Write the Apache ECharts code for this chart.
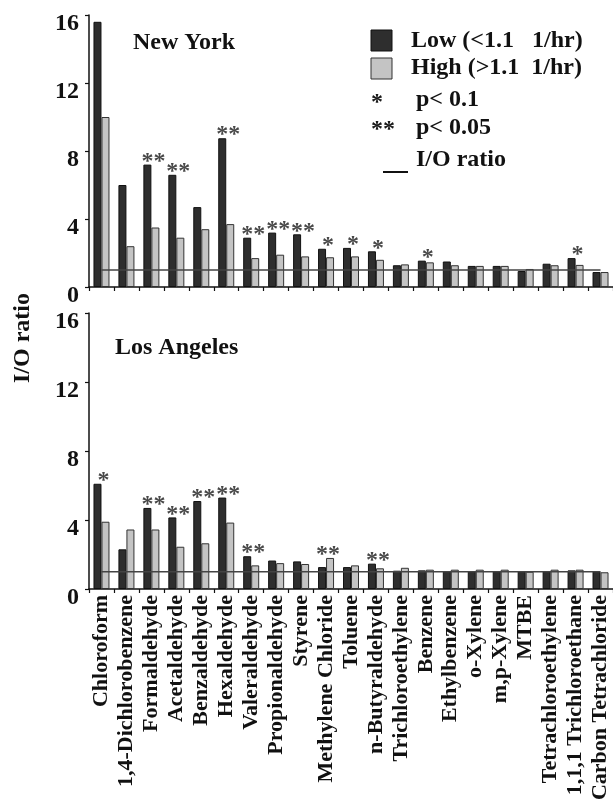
<!DOCTYPE html>
<html>
<head>
<meta charset="utf-8">
<script src="https://cdn.jsdelivr.net/npm/echarts@6/dist/echarts.min.js"></script>
<style>
  html, body { margin: 0; padding: 0; background: #fff; }
  #chart { width: 613px; height: 804px; }
</style>
</head>
<body>
<div id="chart"></div>
<script>
// Compounds, ordered as on the shared category axis
const categories = [
  'Chloroform', '1,4-Dichlorobenzene', 'Formaldehyde', 'Acetaldehyde',
  'Benzaldehyde', 'Hexaldehyde', 'Valeraldehyde', 'Propionaldehyde',
  'Styrene', 'Methylene Chloride', 'Toluene', 'n-Butyraldehyde',
  'Trichloroethylene', 'Benzene', 'Ethylbenzene', 'o-Xylene',
  'm,p-Xylene', 'MTBE', 'Tetrachloroethylene', '1,1,1 Trichloroethane',
  'Carbon Tetrachloride'
];

// New York I/O ratios by air exchange rate group
const nyLow  = [15.6, 6.0, 7.2, 6.6, 4.7, 8.75, 2.9, 3.2, 3.1, 2.25, 2.3, 2.1, 1.28, 1.55, 1.5, 1.24, 1.24, 0.94, 1.37, 1.7, 0.88];
const nyHigh = [10.0, 2.4, 3.5, 2.9, 3.4, 3.7, 1.7, 1.9, 1.8, 1.75, 1.8, 1.6, 1.33, 1.45, 1.28, 1.24, 1.24, 1.06, 1.28, 1.3, 0.88];
const nyStars = ['', '', '**', '**', '', '**', '**', '**', '**', '*', '*', '*', '', '*', '', '', '', '', '', '*', ''];

// Los Angeles I/O ratios by air exchange rate group
const laLow  = [6.1, 2.3, 4.7, 4.15, 5.1, 5.3, 1.9, 1.65, 1.6, 1.27, 1.27, 1.47, 1.06, 1.08, 1.02, 1.02, 1.02, 1.02, 1.02, 1.08, 1.02];
const laHigh = [3.9, 3.45, 3.45, 2.45, 2.65, 3.85, 1.37, 1.5, 1.45, 1.8, 1.37, 1.2, 1.23, 1.12, 1.12, 1.12, 1.12, 1.0, 1.12, 1.12, 0.97];
const laStars = ['*', '', '**', '**', '**', '**', '**', '', '', '**', '', '**', '', '', '', '', '', '', '', '', ''];

// Reference level I/O = 1
const ioRatio = 1;

// Y axis ticks
const yMin = 0, yMax = 16, yStep = 4;

const FONT = '"Liberation Serif", "Times New Roman", serif';
const DARK = '#2e2e2e';
const LIGHT = '#c4c4c4';

function starPoints(low, high, stars) {
  const pts = [];
  categories.forEach((c, i) => {
    if (stars[i]) pts.push({ value: [c, Math.max(low[i], high[i])], star: stars[i] });
  });
  return pts;
}

function yAxis(gridIndex) {
  return {
    type: 'value', gridIndex, min: yMin, max: yMax, interval: yStep,
    splitLine: { show: false },
    axisLine: { show: true, lineStyle: { color: '#111', width: 1.5 } },
    axisTick: { show: true, length: 4, lineStyle: { color: '#111', width: 1.2 } },
    axisLabel: {
      color: '#111', fontFamily: FONT, fontWeight: 'bold', fontSize: 24,
      margin: 10, verticalAlign: 'top', lineHeight: 18
    }
  };
}

function xAxis(gridIndex, showLabels) {
  return {
    type: 'category', gridIndex, data: categories, boundaryGap: true,
    axisLine: { show: true, lineStyle: { color: '#111', width: 1.5 } },
    axisTick: { show: true, length: 4, alignWithLabel: false, lineStyle: { color: '#111', width: 1.2 } },
    axisLabel: {
      show: showLabels, interval: 0, rotate: 90, margin: 6,
      color: '#111', fontFamily: FONT, fontWeight: 'bold', fontSize: 22
    }
  };
}

function barSeries(idx, data, color, border) {
  return {
    type: 'bar', xAxisIndex: idx, yAxisIndex: idx, data,
    barWidth: 8, barGap: '0%',
    itemStyle: { color, borderColor: border, borderWidth: 1 },
    emphasis: { disabled: true }, z: 2
  };
}

function lineSeries(idx) {
  return {
    type: 'line', xAxisIndex: idx, yAxisIndex: idx,
    data: categories.map(() => ioRatio),
    symbol: 'none', lineStyle: { color: '#444', width: 1.5 }, z: 5,
    emphasis: { disabled: true }
  };
}

function starSeries(idx, low, high, stars) {
  return {
    type: 'scatter', xAxisIndex: idx, yAxisIndex: idx,
    data: starPoints(low, high, stars), symbolSize: 0, z: 6,
    label: {
      show: true, position: 'top', distance: 0, offset: [2, 8],
      formatter: p => p.data.star,
      color: '#1a1a1a', fontFamily: FONT, fontWeight: 'bold', fontSize: 24, lineHeight: 22
    },
    emphasis: { disabled: true }
  };
}

const legendFont = 'bold 24px ' + FONT;
const starFont = 'bold 24px ' + FONT;

const option = {
  animation: false,
  backgroundColor: '#fff',
  grid: [
    { left: 89, top: 15, width: 525, height: 272 },
    { left: 89, top: 313, width: 525, height: 276 }
  ],
  xAxis: [xAxis(0, false), xAxis(1, true)],
  yAxis: [yAxis(0), yAxis(1)],
  series: [
    barSeries(0, nyLow, DARK, '#111'),
    barSeries(0, nyHigh, LIGHT, '#333'),
    lineSeries(0),
    starSeries(0, nyLow, nyHigh, nyStars),
    barSeries(1, laLow, DARK, '#111'),
    barSeries(1, laHigh, LIGHT, '#333'),
    lineSeries(1),
    starSeries(1, laLow, laHigh, laStars)
  ],
  graphic: [
    { type: 'text', style: { text: 'New York', x: 133, y: 43, textVerticalAlign: 'middle', font: legendFont, fill: '#111' } },
    { type: 'text', style: { text: 'Los Angeles', x: 115, y: 348, textVerticalAlign: 'middle', font: legendFont, fill: '#111' } },
    { type: 'text', x: 23, y: 338, rotation: Math.PI / 2,
      style: { text: 'I/O ratio', x: 0, y: 0, textAlign: 'center', textVerticalAlign: 'middle', font: legendFont, fill: '#111' } },
    // legend
    { type: 'rect', shape: { x: 371, y: 30, width: 21, height: 21 }, style: { fill: DARK, stroke: '#111', lineWidth: 1 } },
    { type: 'text', style: { text: 'Low (<1.1   1/hr)', x: 411, y: 41, textVerticalAlign: 'middle', font: legendFont, fill: '#111' } },
    { type: 'rect', shape: { x: 371, y: 58, width: 21, height: 21 }, style: { fill: LIGHT, stroke: '#333', lineWidth: 1 } },
    { type: 'text', style: { text: 'High (>1.1  1/hr)', x: 411, y: 68, textVerticalAlign: 'middle', font: legendFont, fill: '#111' } },
    { type: 'text', style: { text: '*', x: 371, y: 103, textVerticalAlign: 'middle', font: starFont, fill: '#1a1a1a' } },
    { type: 'text', style: { text: 'p< 0.1', x: 416, y: 100, textVerticalAlign: 'middle', font: legendFont, fill: '#111' } },
    { type: 'text', style: { text: '**', x: 371, y: 130, textVerticalAlign: 'middle', font: starFont, fill: '#1a1a1a' } },
    { type: 'text', style: { text: 'p< 0.05', x: 416, y: 128, textVerticalAlign: 'middle', font: legendFont, fill: '#111' } },
    { type: 'line', shape: { x1: 383, y1: 172, x2: 408, y2: 172 }, style: { stroke: '#111', lineWidth: 2 } },
    { type: 'text', style: { text: 'I/O ratio', x: 416, y: 160, textVerticalAlign: 'middle', font: legendFont, fill: '#111' } }
  ]
};

const chart = echarts.init(document.getElementById('chart'), null, { renderer: 'canvas' });
chart.setOption(option);
</script>
</body>
</html>
